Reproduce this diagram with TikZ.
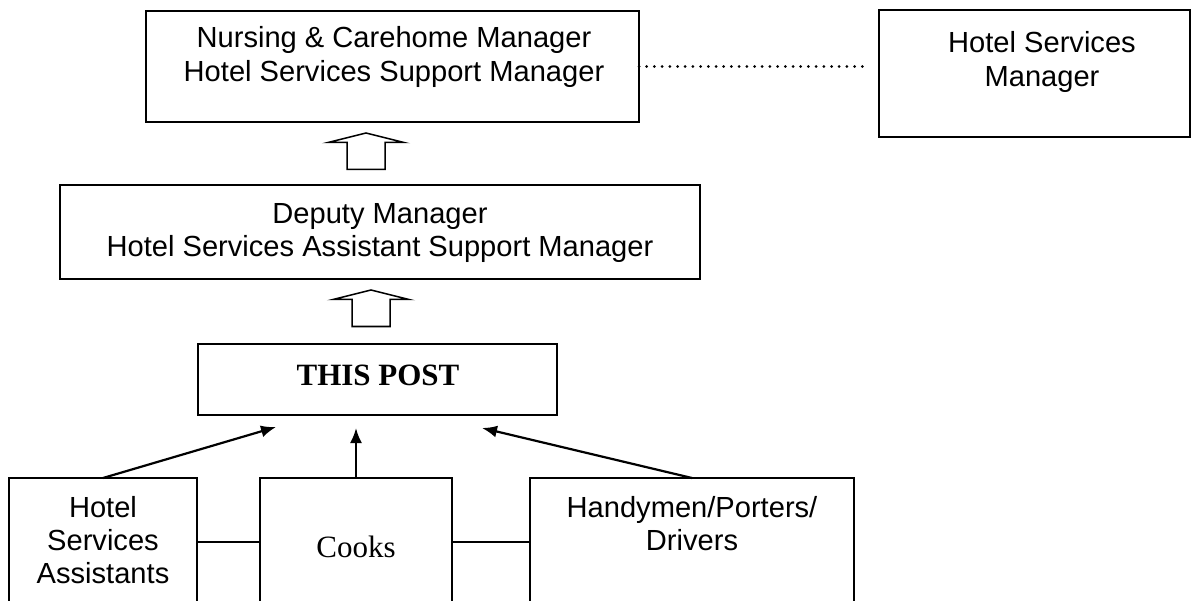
\documentclass[tikz,border=0pt]{standalone}
\usepackage{fontspec}
\setmainfont{Liberation Sans}
\newfontfamily\tmsfont{Liberation Serif}
\usetikzlibrary{arrows.meta}
\newcommand{\mylines}[1]{\begin{tabular}[t]{@{}c@{}}#1\end{tabular}}
\begin{document}
\begin{tikzpicture}[x=1pt,y=-1pt,
  box/.style={draw, line width=1.5pt, rectangle, inner sep=0pt, outer sep=0pt, anchor=north west},
  txt/.style={anchor=base, inner sep=0pt, font=\fontsize{29.1}{33.4}\selectfont},
  serif/.style={anchor=base, inner sep=0pt, font=\tmsfont\fontsize{31}{35}\selectfont},
  conn/.style={line width=2.2pt, -{Latex[length=15pt,width=12pt]}},
  link/.style={line width=1.5pt},
  dots/.style={line width=3pt, line cap=round, dash pattern=on 0pt off 7.7pt},
  hollow/.style={draw, line width=1.5pt, line join=miter, fill=white},
  uparrow/.pic={\draw[hollow] (-38,9.5) -- (0,0) -- (38,9.5) -- (19,9.5) -- (19,36.5) -- (-19,36.5) -- (-19,9.5) -- cycle;}
]
\useasboundingbox (0,0) rectangle (1193,601);
% boxes
\node[box, minimum width=493pt, minimum height=111pt] (A) at (146,11) {};
\node[box, minimum width=311pt, minimum height=127pt] (B) at (879,10) {};
\node[box, minimum width=640pt, minimum height=94pt] (C) at (60,185) {};
\node[box, minimum width=359pt, minimum height=71pt] (D) at (198,344) {};
\node[box, minimum width=188pt, minimum height=128pt] (E) at (9,478) {};
\node[box, minimum width=192pt, minimum height=128pt] (F) at (260,478) {};
\node[box, minimum width=324pt, minimum height=128pt] (G) at (530,478) {};
% texts
\node[txt] (tA) at (394,48) {\mylines{Nursing \& Carehome Manager\\Hotel Services Support Manager}};
\node[txt] (tB) at (1042,53) {\mylines{Hotel Services\\Manager}};
\node[txt] (tC) at (380,223.5) {\mylines{Deputy Manager\\Hotel Services Assistant Support Manager}};
\node[serif, font=\tmsfont\bfseries\fontsize{31}{35}\selectfont] (tD) at (378,385) {THIS POST};
\node[txt] (tE) at (103,517) {\mylines{Hotel\\Services\\Assistants}};
\node[serif] (tF) at (356,557) {Cooks};
\node[txt] (tG) at (692,517) {\mylines{Handymen/Porters/\\Drivers}};
% dotted link
\coordinate (dEnd) at (866,66.5);
\draw[dots] (A.east) -- (dEnd);
% hollow arrows
\pic (up1) at (366,133) {uparrow};
\pic (up2) at (371,290) {uparrow};
% arrows into this post
\coordinate (hE) at (276,427);
\coordinate (hF) at (356,428);
\coordinate (hG) at (482,428);
\draw[conn] (E.north) -- (hE);
\draw[conn] (F.north) -- (hF);
\draw[conn] (G.north) -- (hG);
% horizontal links
\draw[link] (E.east) -- (F.west);
\draw[link] (F.east) -- (G.west);
\end{tikzpicture}
\end{document}
